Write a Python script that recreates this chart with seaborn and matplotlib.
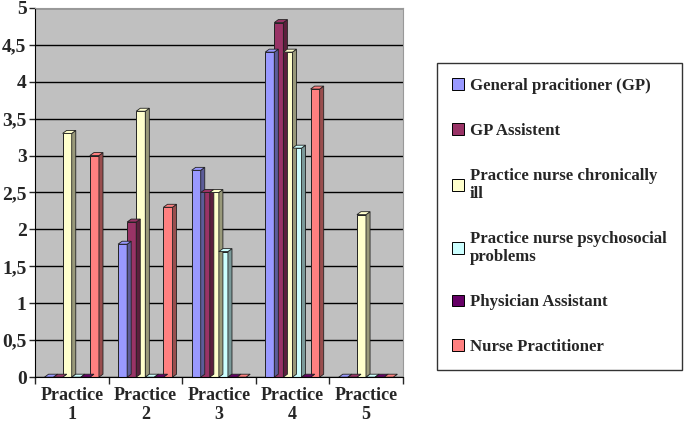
import pandas as pd
import matplotlib.pyplot as plt
import matplotlib.ticker as mticker
from matplotlib.patches import Polygon
import matplotlib.colors as mcolors
import seaborn as sns

practices = ['Practice\n1', 'Practice\n2', 'Practice\n3', 'Practice\n4', 'Practice\n5']
roles = ['General pracitioner (GP)', 'GP Assistent', 'Practice nurse chronically\nill',
         'Practice nurse psychosocial\nproblems', 'Physician Assistant', 'Nurse Practitioner']
colors = ['#9999FF', '#993366', '#FFFFCC', '#CCFFFF', '#660066', '#FF8080']

gp = [0, 1.8, 2.8, 4.4, 0]
gp_assistent = [0, 2.1, 2.5, 4.8, 0]
pn_chronic = [3.3, 3.6, 2.5, 4.4, 2.2]
pn_psycho = [0, 0, 1.7, 3.1, 0]
physician_assistant = [0, 0, 0, 0, 0]
nurse_practitioner = [3.0, 2.3, 0, 3.9, 0]

series = [gp, gp_assistent, pn_chronic, pn_psycho, physician_assistant, nurse_practitioner]
rows = []
for role, vals in zip(roles, series):
    for p, v in zip(practices, vals):
        rows.append({'Practice': p, 'Role': role, 'Value': v})
df = pd.DataFrame(rows)

sns.set_style('white')
plt.rcParams['font.family'] = ['Liberation Serif', 'DejaVu Serif']
plt.rcParams['font.weight'] = 'bold'

fig = plt.figure(figsize=(6.85, 4.33), dpi=100)
ax = fig.add_axes([0.051, 0.129, 0.537, 0.853])
ax.set_facecolor('#C0C0C0')

sns.barplot(data=df, x='Practice', y='Value', hue='Role', hue_order=roles,
            palette=colors, width=0.74, edgecolor='#222222', linewidth=0.7,
            saturation=1, ax=ax, legend=True)

# fake Excel-style 3D: a darker side face and a top face per bar
dx, dy = 0.055, 0.04
for bar in list(ax.patches):
    x0, w, h = bar.get_x(), bar.get_width(), bar.get_height()
    if w == 0:
        continue
    fc = bar.get_facecolor()
    dark = tuple(c * 0.6 for c in mcolors.to_rgb(fc))
    side = Polygon([(x0 + w, 0), (x0 + w + dx, dy), (x0 + w + dx, h + dy), (x0 + w, h)],
                   closed=True, facecolor=dark, edgecolor='#222222', linewidth=0.6, zorder=bar.get_zorder())
    top = Polygon([(x0, h), (x0 + dx, h + dy), (x0 + w + dx, h + dy), (x0 + w, h)],
                  closed=True, facecolor=fc, edgecolor='#222222', linewidth=0.6, zorder=bar.get_zorder())
    ax.add_patch(side)
    ax.add_patch(top)

ax.set_ylim(0, 5)
ax.set_xlim(-0.5, 4.5)
ax.yaxis.set_major_locator(mticker.MultipleLocator(0.5))
ax.yaxis.set_major_formatter(mticker.FuncFormatter(
    lambda v, _: ('%g' % v).replace('.', ',')))
ax.grid(axis='y', color='black', linewidth=1)
ax.set_axisbelow(True)
ax.set_xlabel('')
ax.set_ylabel('')
ax.tick_params(axis='y', labelsize=14, length=4, left=True, width=1, pad=2)
ax.tick_params(axis='x', labelsize=13, length=0, pad=7)
ax.set_xticks([-0.5, 0.5, 1.5, 2.5, 3.5, 4.5], minor=True)
ax.tick_params(axis='x', which='minor', length=5, bottom=True, width=1)
for lbl in ax.get_xticklabels() + ax.get_yticklabels():
    lbl.set_fontweight('bold')

for s in ['top', 'right']:
    ax.spines[s].set_color('#999999')
ax.spines['left'].set_color('black')
ax.spines['bottom'].set_color('black')

handles, labels = ax.get_legend_handles_labels()
ax.legend_.remove()
leg = fig.legend(handles, labels, loc='upper left', bbox_to_anchor=(0.638, 0.855),
                 frameon=True, fancybox=False, edgecolor='black',
                 prop={'family': 'Liberation Serif', 'weight': 'bold', 'size': 12.1},
                 handlelength=0.7, handleheight=0.7, handletextpad=0.35,
                 labelspacing=1.72, borderpad=0.9, borderaxespad=0)
leg.get_frame().set_linewidth(1)
for h in leg.legend_handles:
    h.set_edgecolor('black')

fig.savefig('out.png', dpi=100)
